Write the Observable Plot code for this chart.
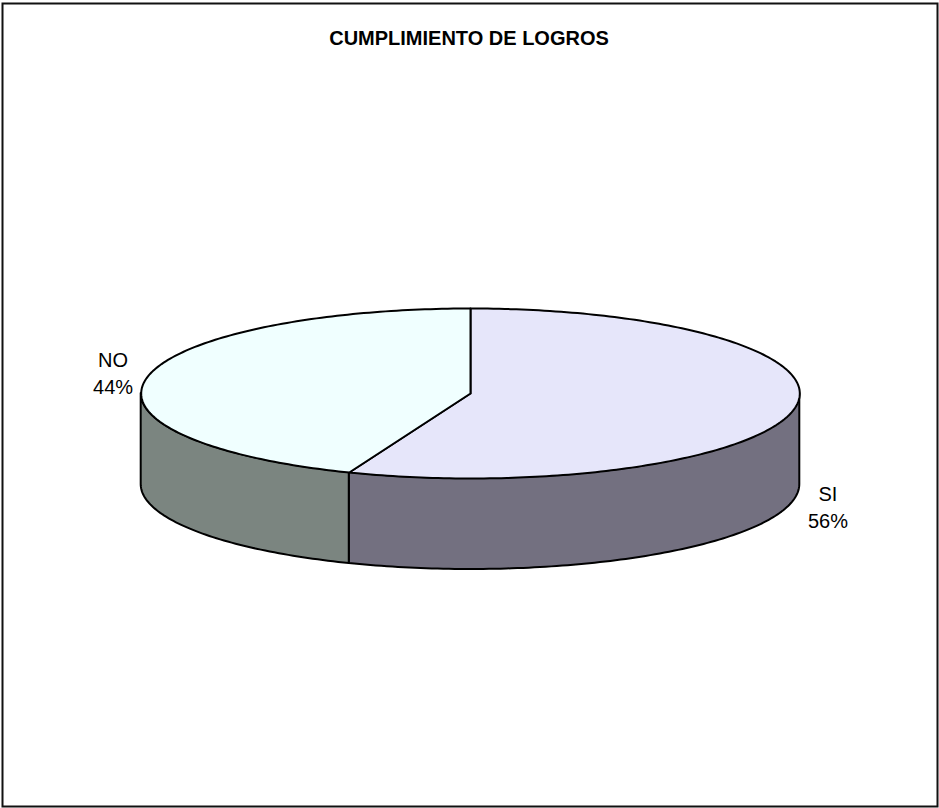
<!DOCTYPE html>
<html>
<head>
<meta charset="utf-8">
<script src="https://cdn.jsdelivr.net/npm/d3@7"></script>
<script src="https://cdn.jsdelivr.net/npm/@observablehq/plot@0.6"></script>
<style>
  html, body { margin: 0; padding: 0; background: #fff; }
  svg { display: block; }
</style>
</head>
<body>
<div id="chart"></div>
<script>
// ---- data ----
const title = "CUMPLIMIENTO DE LOGROS";
const categories = ["SI", "NO"];
const percents = [56, 44];

// ---- style ----
const topColors = { SI: "#E6E6FA", NO: "#F0FFFF" };
const sideColors = { SI: "#737080", NO: "#7B8580" };
const W = 939, H = 808;
const cxPx = 470, cyPx = 393, rxPx = 329.3;
const tilt = 85 / rxPx;     // ellipse ry relative to rx
const depth = 91 / rxPx;    // thickness relative to rx

const rad = d => d * Math.PI / 180;
const topPt = a => ({ x: Math.sin(rad(a)), y: tilt * Math.cos(rad(a)) });

// build slices (clockwise from 12 o'clock)
let acc = 0;
const slices = categories.map((c, i) => {
  const a0 = acc, a1 = acc + percents[i] / 100 * 360;
  acc = a1;
  return { c, p: percents[i], a0, a1, mid: (a0 + a1) / 2 };
});

function arc(a0, a1) {
  const n = Math.max(2, Math.ceil(Math.abs(a1 - a0)));
  return d3.range(n + 1).map(k => a0 + (a1 - a0) * k / n);
}

const marks = [];
marks.push(Plot.frame({ stroke: "#111", strokeWidth: 2, insetLeft: 2, insetTop: 3, insetRight: 2, insetBottom: 2 }));

// visible front side walls (90..270 degrees)
for (const s of slices) {
  const b0 = Math.max(s.a0, 90), b1 = Math.min(s.a1, 270);
  if (b1 <= b0) continue;
  const pts = arc(b0, b1).map(a => {
    const t = topPt(a);
    return { x: t.x, y1: t.y, y2: t.y - depth };
  });
  marks.push(Plot.areaY(pts, {
    x: "x", y1: "y1", y2: "y2",
    fill: sideColors[s.c], stroke: "#000", strokeWidth: 2, strokeLinejoin: "round"
  }));
}

// top faces
for (const s of slices) {
  const pts = [{ x: 0, y: 0 }, ...arc(s.a0, s.a1).map(topPt), { x: 0, y: 0 }];
  marks.push(Plot.line(pts, {
    x: "x", y: "y", fill: topColors[s.c], stroke: "#000", strokeWidth: 2, strokeLinejoin: "round"
  }));
}

// labels placed outside at mid angle
const labelData = slices.map(s => ({
  text: `${s.c}\n${s.p}%`,
  x: 1.105 * Math.sin(rad(s.mid)),
  y: 1.086 * Math.cos(rad(s.mid)) - depth / 2
}));
marks.push(Plot.text(labelData, {
  x: "x", y: "y", text: "text", textAnchor: "middle", lineAnchor: "middle",
  lineHeight: 1.35, fontSize: 20, fill: "#000", fontFamily: "Liberation Sans, Arial, sans-serif"
}));

// title
marks.push(Plot.text([title], {
  text: d => d, frameAnchor: "top", dy: 30, dx: -1, lineAnchor: "top",
  fontSize: 20, fontWeight: "bold", fill: "#000", fontFamily: "Liberation Sans, Arial, sans-serif"
}));

const chart = Plot.plot({
  width: W, height: H,
  margin: 0,
  x: { domain: [-cxPx / rxPx, (W - cxPx) / rxPx], axis: null },
  y: { domain: [-(H - cyPx) / rxPx, cyPx / rxPx], axis: null },
  style: { background: "#fff", fontFamily: "Liberation Sans, Arial, sans-serif" },
  marks
});
document.getElementById("chart").appendChild(chart);
</script>
</body>
</html>
